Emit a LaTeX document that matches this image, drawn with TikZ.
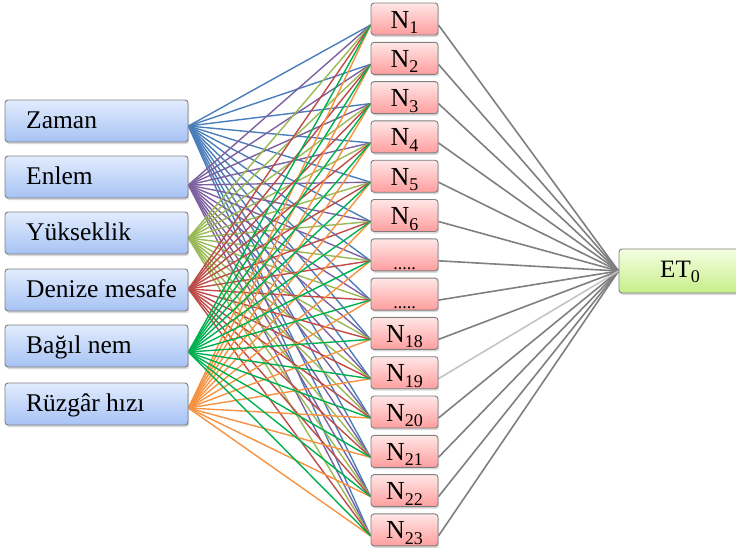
\documentclass[tikz,border=0pt]{standalone}
\usepackage{fontspec}
\setmainfont{Liberation Serif}
\usetikzlibrary{shadows}
\pgfdeclarelayer{bg}
\pgfsetlayers{bg,main}
\definecolor{cZ}{HTML}{4A7EBB}
\definecolor{cE}{HTML}{7D60A0}
\definecolor{cY}{HTML}{98B954}
\definecolor{cD}{HTML}{BE4B48}
\definecolor{cB}{HTML}{00B050}
\definecolor{cR}{HTML}{F69240}
\definecolor{inTop}{HTML}{E2ECFE}
\definecolor{inBot}{HTML}{A6C2F4}
\definecolor{nTop}{HTML}{FFE6E6}
\definecolor{nBot}{HTML}{FF9E9E}
\definecolor{eTop}{HTML}{F4FFE2}
\definecolor{eBot}{HTML}{C6EE8A}
\definecolor{bord}{HTML}{7F7F7F}
\definecolor{gline}{HTML}{7F7F7F}
\definecolor{glight}{HTML}{C4C4C4}
\newcommand\nsub[1]{\raisebox{-5.5pt}{\fontsize{18}{18}\selectfont #1}}
\begin{document}
\begin{tikzpicture}[x=1pt,y=-1pt,
  boxbase/.style={draw=bord, line width=0.9pt, rounded corners=3pt, shading=axis,
    drop shadow={shadow xshift=1.2pt, shadow yshift=-2pt, opacity=0.3}},
  inbox/.style={boxbase, top color=inTop, bottom color=inBot, minimum width=183pt, minimum height=42pt, inner sep=0pt},
  nbox/.style={boxbase, top color=nTop, bottom color=nBot, minimum width=67pt, minimum height=32pt, inner sep=0pt},
  etbox/.style={boxbase, top color=eTop, bottom color=eBot, minimum width=131pt, minimum height=44pt, inner sep=0pt},
  intext/.style={anchor=base west, inner sep=0pt, font=\fontsize{25.5}{28}\selectfont},
  ntext/.style={anchor=base, inner sep=0pt, font=\fontsize{26}{28}\selectfont},
  conn/.style={line width=1.4pt},
  outconn/.style={line width=1.6pt, gline}
]
\useasboundingbox (0,0) rectangle (736,550);
\clip (0,0) rectangle (736,550);

% input boxes
\foreach \t/\lab/\sh [count=\i] in {100/Zaman/-5, 156/Enlem/-8, 212/Yükseklik/-5, 269/Denize mesafe/1, 325/Bağıl nem/-6, 383/Rüzgâr hızı/-4} {
  \node[inbox] (in\i) at (96.5,\t+21) {};
  \node[intext] (int\i) at (26,\t+28) {\lab};
  \coordinate (a\i) at ([yshift=\sh pt]in\i.east);
}

% hidden layer boxes
\foreach \txt [count=\i from 0] in {N\nsub{1},N\nsub{2},N\nsub{3},N\nsub{4},N\nsub{5},N\nsub{6},\nsub{.....},\nsub{.....},N\nsub{18},N\nsub{19},N\nsub{20},N\nsub{21},N\nsub{22},N\nsub{23}} {
  \node[nbox] (n\i) at (404.5,3+39.3*\i+16) {};
  \node[ntext] (nt\i) at (404.5,3+39.3*\i+25) {\txt};
  \coordinate (nl\i) at ([yshift=-6pt]n\i.west);
  \coordinate (nr\i) at ([yshift=-6pt]n\i.east);
}

% output box
\node[etbox] (et) at (684.5,271) {};
\node[ntext, font=\fontsize{25}{28}\selectfont] (ett) at (680,277) {ET\nsub{0}};

\begin{pgfonlayer}{bg}
  \foreach \c/\col in {1/cZ,2/cE,3/cY,4/cD,6/cR,5/cB} {
    \foreach \j in {0,...,13} {
      \draw[conn, \col] (a\c) -- (nl\j);
    }
  }
  \foreach \j in {0,...,8,10,11,12,13} {
    \draw[outconn] (nr\j) -- (et.west);
  }
  \draw[outconn, glight] (nr9) -- (et.west);
\end{pgfonlayer}
\end{tikzpicture}
\end{document}
